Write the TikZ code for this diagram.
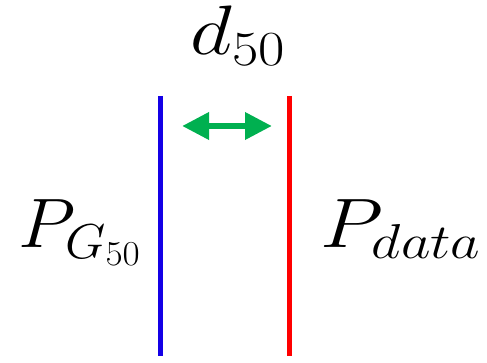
\RequirePackage{fix-cm}
\documentclass[tikz,border=0pt]{standalone}
\usetikzlibrary{arrows.meta}
\definecolor{lineblue}{RGB}{20,0,230}
\definecolor{linered}{RGB}{255,0,0}
\definecolor{arrgreen}{RGB}{0,176,80}
\tikzset{
  vline/.style={line width=5pt},
  lbl/.style={inner sep=0pt, font=\fontsize{70}{80}\selectfont, xscale=1.17},
  gap/.style={arrgreen, line width=6.5pt, {Triangle[length=27pt,width=26pt]}-{Triangle[length=27pt,width=26pt]}}
}
\begin{document}
\begin{tikzpicture}[x=1pt,y=-1pt]
\useasboundingbox (0,0) rectangle (487,363);
\coordinate (bt) at (160,96);
\coordinate (bb) at (160,356);
\coordinate (rt) at (289,96);
\coordinate (rb) at (289,356);
\coordinate (al) at (182,126);
\coordinate (ar) at (272,126);
\draw[vline, lineblue] (bt) -- (bb);
\draw[vline, linered] (rt) -- (rb);
\draw[gap] (al) -- (ar);
\node[lbl, anchor=base] (d) at (238,55) {$d_{50}$};
\node[lbl, xscale=0.91, anchor=base east] (pg) at (141,248) {$P_{G_{50}}$};
\node[lbl, anchor=base west] (pd) at (320,248) {$P_{data}$};
\end{tikzpicture}
\end{document}
